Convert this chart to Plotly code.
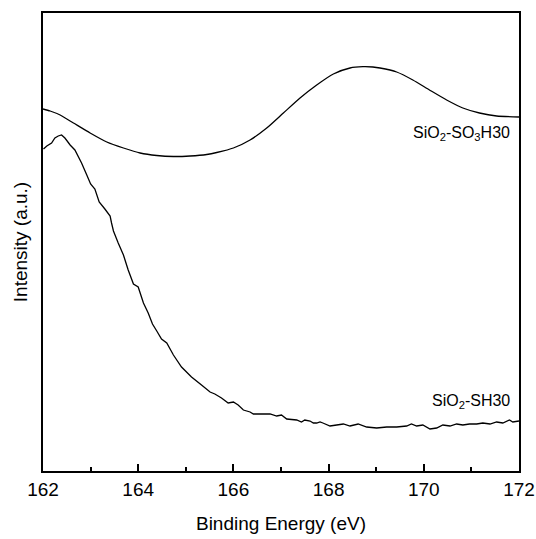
import plotly.graph_objects as go

# SiO2-SO3H30 S 2p region (smooth envelope)
so3h_energy = [162.0, 162.15, 162.36, 162.64, 162.99, 163.34, 163.69, 164.04, 164.39,
               164.74, 165.09, 165.44, 165.65, 166.0, 166.35, 166.70, 167.05, 167.40,
               167.75, 168.10, 168.45, 168.72, 168.93, 169.08, 169.43, 169.77, 170.12,
               170.48, 170.82, 171.17, 171.53, 172.0]
so3h_intensity = [362, 360, 356, 348, 338, 329, 323, 318, 315.5,
                  314.5, 315, 316.5, 318.5, 323, 331, 343, 358, 373,
                  386, 397, 403, 404.3, 404, 403, 399, 391, 381,
                  371, 363, 358, 355, 354]

# SiO2-SH30 S 2p region (raw scan)
sh_energy = [162.01, 162.08, 162.18, 162.25, 162.32, 162.39, 162.46, 162.57, 162.67, 162.74,
             162.81, 162.92, 163.00, 163.09, 163.18, 163.30, 163.41, 163.44, 163.48, 163.58,
             163.69, 163.79, 163.90, 164.00, 164.11, 164.21, 164.30, 164.39, 164.49, 164.60,
             164.74, 164.91, 165.12, 165.33, 165.51, 165.61, 165.75, 165.89, 166.00, 166.10,
             166.21, 166.35, 166.42, 166.56, 166.77, 166.91, 167.01, 167.12, 167.33, 167.43,
             167.50, 167.61, 167.68, 167.75, 167.82, 167.88, 168.03, 168.17, 168.31, 168.45,
             168.62, 168.80, 169.01, 169.22, 169.43, 169.64, 169.74, 169.85, 169.98, 170.13,
             170.27, 170.40, 170.55, 170.69, 170.82, 170.96, 171.11, 171.24, 171.39, 171.53,
             171.66, 171.80, 171.87, 172.00]
sh_intensity = [322, 325, 328, 333, 335, 336, 333, 326, 321, 315,
                308, 296, 287, 282, 269, 262, 255, 248, 240, 228,
                216, 201, 187, 184, 168, 158, 147, 140, 132, 128,
                116, 104, 94, 86, 79, 77, 73, 68, 69, 66,
                61, 59, 57, 57, 57, 55, 56, 52, 51, 49,
                51, 50, 48, 48, 49, 48, 45, 46, 47, 45,
                47, 44, 43, 44, 44, 45, 47, 45, 46, 42,
                43, 46, 45, 47, 46, 47, 47, 48, 47, 49,
                48, 51, 49, 50]

x_ticks = [162, 164, 166, 168, 170, 172]

line_style = dict(color="black", width=1.3)

fig = go.Figure()
fig.add_trace(go.Scatter(x=so3h_energy, y=so3h_intensity, mode="lines",
                         line=dict(shape="spline", smoothing=0.6, **line_style),
                         showlegend=False))
fig.add_trace(go.Scatter(x=sh_energy, y=sh_intensity, mode="lines",
                         line=line_style, showlegend=False))

fig.add_annotation(x=171.86, y=338, xref="x", yref="y", xanchor="right", yanchor="middle",
                   text="SiO<sub>2</sub>-SO<sub>3</sub>H30", showarrow=False,
                   font=dict(size=16, color="black"))
fig.add_annotation(x=171.86, y=70, xref="x", yref="y", xanchor="right", yanchor="middle",
                   text="SiO<sub>2</sub>-SH30", showarrow=False,
                   font=dict(size=16, color="black"))

fig.update_layout(
    width=536, height=539,
    margin=dict(l=43, r=17, t=13, b=68),
    paper_bgcolor="white", plot_bgcolor="white",
    font=dict(family="Liberation Sans, Arial, sans-serif", color="black", size=19),
    xaxis=dict(
        range=[162, 172], tickvals=x_ticks, ticktext=[str(v) for v in x_ticks],
        ticks="inside", ticklen=7, tickwidth=1.5, tickcolor="black",
        minor=dict(ticks="inside", ticklen=4, dtick=1, tickwidth=1.5, tickcolor="black"),
        showline=True, linecolor="black", linewidth=2, mirror=True,
        showgrid=False, zeroline=False, automargin=False,
        tickfont=dict(size=19),
        title=dict(text="Binding Energy (eV)", font=dict(size=19), standoff=18),
    ),
    yaxis=dict(
        range=[0, 458], showticklabels=False, ticks="",
        showline=True, linecolor="black", linewidth=2, mirror=True,
        showgrid=False, zeroline=False, automargin=False,
        title=dict(text="Intensity (a.u.)", font=dict(size=19), standoff=8),
    ),
)

fig.write_html("out.html")
